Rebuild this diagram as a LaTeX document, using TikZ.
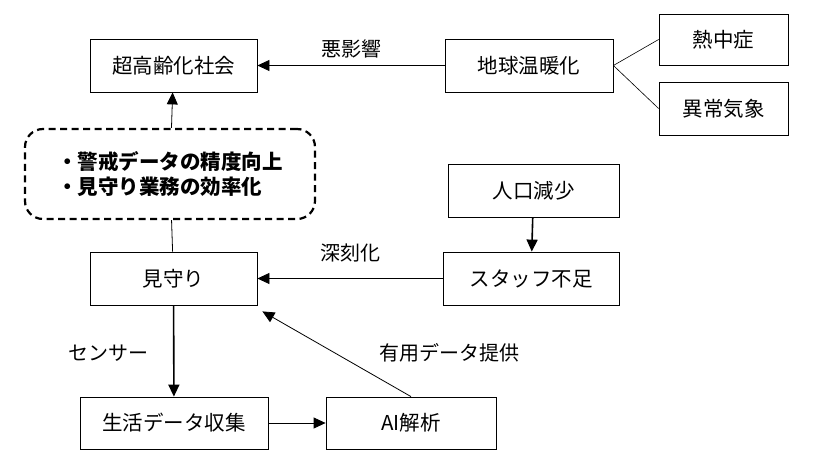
\documentclass[tikz,border=0pt]{standalone}
\usepackage{fontspec}
\setmainfont{Noto Sans CJK JP}
\usetikzlibrary{arrows.meta}
\begin{document}
\begin{tikzpicture}[x=1pt,y=-1pt,
	box/.style={draw,line width=0.8pt,minimum height=53pt,inner sep=0pt,font=\fontsize{20.5}{24}\selectfont},
	lbl/.style={inner sep=0pt,font=\fontsize{20}{24}\selectfont},
	arr/.style={-{Triangle[length=12pt,width=11pt]},line width=0.8pt},
	thickarr/.style={arr,line width=1.6pt}]
	%
	\useasboundingbox (0,0) rectangle (832,460);
	%
	\node [box,minimum width=167pt] (koureika) at (173.5,65.5) {超高齢化社会};
	\node [box,minimum width=168pt] (ondanka) at (529,65.5) {地球温暖化};
	\node [box,minimum width=129pt,minimum height=51pt] (necchu) at (723.5,39.5) {熱中症};
	\node [box,minimum width=129pt] (ijou) at (723.5,108.5) {異常気象};
	\node [draw,dashed,dash pattern=on 7pt off 4.5pt,line width=2.2pt,rounded corners=18pt,
		minimum width=290pt,minimum height=90pt,inner sep=0pt,align=left,
		font=\fontsize{20.5}{25}\selectfont\bfseries] (kouka) at (170,174) {・警戒データの精度向上\\・見守り業務の効率化};
	\node [box,minimum width=167pt] (mimamori) at (173.5,278.5) {見守り};
	\node [box,minimum width=171pt] (jinkou) at (533.5,190.5) {人口減少};
	\node [box,minimum width=176pt] (staff) at (531,278.5) {スタッフ不足};
	\node [box,minimum width=188pt,minimum height=52pt] (seikatsu) at (174,423) {生活データ収集};
	\node [box,minimum width=170pt,minimum height=52pt] (ai) at (411,423) {AI解析};
	%
	\coordinate (mimamori-in) at ([shift={(5,6)}]mimamori.south east);
	%
	\draw [arr] (ondanka) -- (koureika) node [lbl,midway,above=7pt] {悪影響};
	\draw [line width=0.6pt] (ondanka.east) -- (necchu.west) (ondanka.east) -- (ijou.west);
	\draw [arr] (kouka) -- (koureika);
	\draw [line width=0.8pt] (mimamori) -- (kouka);
	\draw [thickarr] (jinkou) -- (staff);
	\draw [arr] (staff) -- (mimamori) node [lbl,midway,above=16pt] {深刻化};
	\draw [thickarr] (mimamori) -- (seikatsu);
	\node [lbl] (sensor) at (108,353) {センサー};
	\draw [arr] (seikatsu) -- (ai);
	\draw [arr] (ai.north) -- (mimamori-in);
	\node [lbl] (teikyou) at (449,353) {有用データ提供};
\end{tikzpicture}
\end{document}
